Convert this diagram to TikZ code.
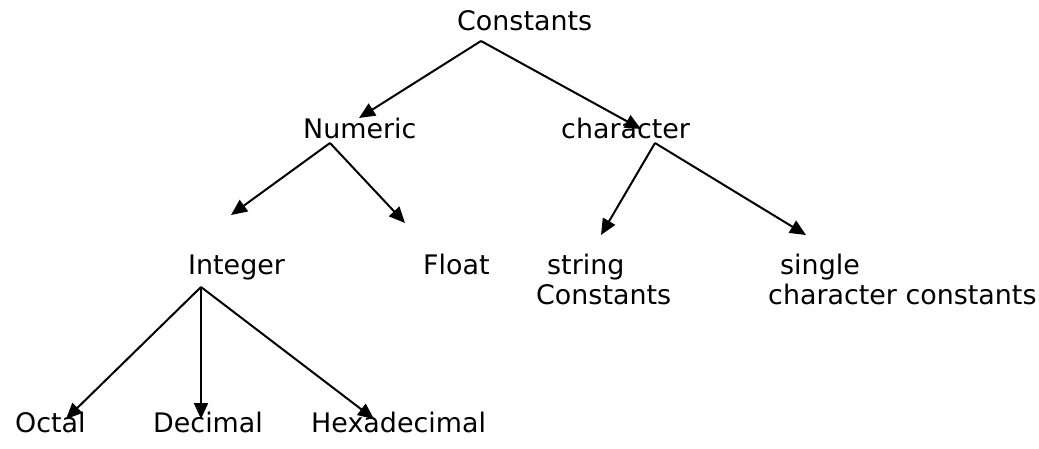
\documentclass[tikz,border=0pt]{standalone}
\usepackage{fontspec}
\setmainfont{DejaVu Sans}
\usetikzlibrary{arrows.meta}
\begin{document}
\begin{tikzpicture}[x=1pt,y=-1pt,
  label/.style={anchor=base west,inner sep=0pt,align=left,
    font=\fontsize{26.9}{30}\selectfont},
  link/.style={line width=2pt,-{Triangle[length=16pt,width=14pt]}}]
  \fill[white] (0,0) rectangle (1039,448);
  \useasboundingbox (0,0) rectangle (1039,448);

  % labels, placed by their (last) baselines
  \node[label] (const) at (457,30) {Constants};
  \node[label] (num)   at (303,138) {Numeric};
  \node[label] (chr)   at (561,138) {character};
  \node[label] (int)   at (188,274) {Integer};
  \node[label] (flt)   at (423,274) {Float};
  \node[label] (str)   at (536,304) {\hspace{11pt}string\\Constants};
  \node[label] (sgl)   at (768,304) {\hspace{12pt}single\\character constants};
  \node[label] (oct)   at (15,432)  {Octal};
  \node[label] (dec)   at (153,432) {Decimal};
  \node[label] (hex)   at (311,432) {Hexadecimal};

  % where the connectors leave and end
  \coordinate (const-out) at (481,41);
  \coordinate (num-out)   at (330,143);
  \coordinate (chr-out)   at (655,143);
  \coordinate (int-out)   at (201,287);
  \coordinate (num-in) at (359,118);
  \coordinate (chr-in) at (641,129);
  \coordinate (int-in) at (231,215);
  \coordinate (flt-in) at (405,223);
  \coordinate (str-in) at (601,235);
  \coordinate (sgl-in) at (806,235);
  \coordinate (oct-in) at (66,419);
  \coordinate (dec-in) at (201,419);
  \coordinate (hex-in) at (374,419);

  \draw[link] (const-out) -- (num-in);
  \draw[link] (const-out) -- (chr-in);
  \draw[link] (num-out) -- (int-in);
  \draw[link] (num-out) -- (flt-in);
  \draw[link] (chr-out) -- (str-in);
  \draw[link] (chr-out) -- (sgl-in);
  \draw[link] (int-out) -- (oct-in);
  \draw[link] (int-out) -- (dec-in);
  \draw[link] (int-out) -- (hex-in);
\end{tikzpicture}
\end{document}
